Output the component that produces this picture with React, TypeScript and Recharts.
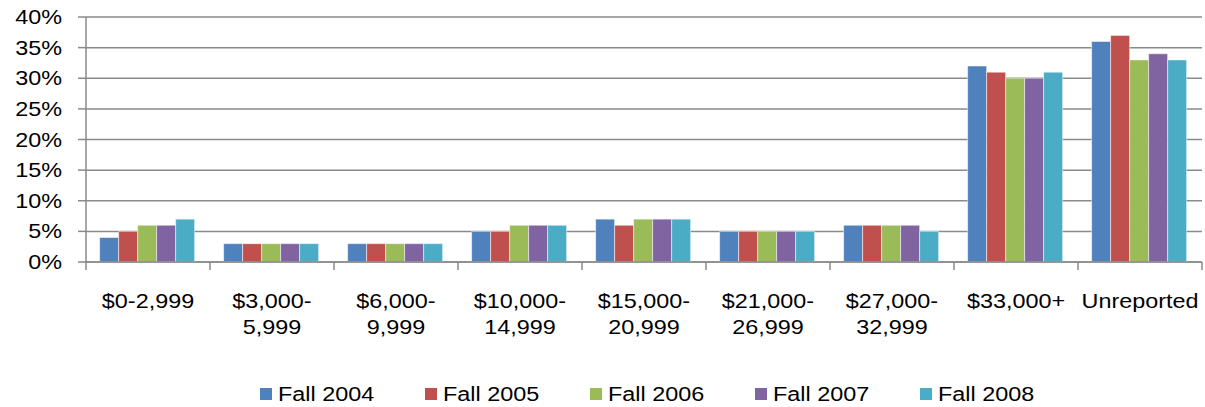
import { BarChart, Bar, XAxis, YAxis, CartesianGrid, Legend } from "recharts"

const categories = [
    ["$0-2,999"],
    ["$3,000-", "5,999"],
    ["$6,000-", "9,999"],
    ["$10,000-", "14,999"],
    ["$15,000-", "20,999"],
    ["$21,000-", "26,999"],
    ["$27,000-", "32,999"],
    ["$33,000+"],
    ["Unreported"],
]

const fall2004 = [4, 3, 3, 5, 7, 5, 6, 32, 36]
const fall2005 = [5, 3, 3, 5, 6, 5, 6, 31, 37]
const fall2006 = [6, 3, 3, 6, 7, 5, 6, 30, 33]
const fall2007 = [6, 3, 3, 6, 7, 5, 6, 30, 34]
const fall2008 = [7, 3, 3, 6, 7, 5, 5, 31, 33]

const yTicks = [0, 5, 10, 15, 20, 25, 30, 35, 40]

const series = [
    { key: "f2004", name: "Fall 2004", color: "#4F81BD", values: fall2004 },
    { key: "f2005", name: "Fall 2005", color: "#C0504D", values: fall2005 },
    { key: "f2006", name: "Fall 2006", color: "#9BBB59", values: fall2006 },
    { key: "f2007", name: "Fall 2007", color: "#8064A2", values: fall2007 },
    { key: "f2008", name: "Fall 2008", color: "#4BACC6", values: fall2008 },
]

const data = categories.map((lines, i) => {
    const row: any = { cat: lines.join(" "), idx: i }
    series.forEach(s => { row[s.key] = s.values[i] })
    return row
})

const FONT = '"Liberation Sans", Arial, sans-serif'
const STRETCH = 1.17
const GRID = "#8a8a8a"

function XTick(props: any) {
    const { x, y, index, width, visibleTicksCount } = props
    const band = width / (visibleTicksCount || categories.length)
    const lines = categories[index] || []
    return (
        <g>
            <line x1={x - band / 2} x2={x - band / 2} y1={y} y2={y + 8} stroke={GRID} strokeWidth={1.5} />
            {index === categories.length - 1 && (
                <line x1={x + band / 2} x2={x + band / 2} y1={y} y2={y + 8} stroke={GRID} strokeWidth={1.5} />
            )}
            {lines.map((l, i) => (
                <text key={i} transform={`translate(${x} ${y + 46 + i * 26}) scale(${STRETCH} 1)`} textAnchor="middle"
                    fontSize={20} fontFamily={FONT} fill="#000">{l}</text>
            ))}
        </g>
    )
}

function YTick(props: any) {
    const { x, y, payload } = props
    return (
        <text transform={`translate(${x} ${y + 7}) scale(${STRETCH} 1)`} textAnchor="end" fontSize={20} fontFamily={FONT} fill="#000">
            {payload.value}%
        </text>
    )
}

function LegendContent() {
    return (
        <div style={{ display: "flex", alignItems: "center", height: 24, fontFamily: FONT }}>
            {series.map(s => (
                <div key={s.key} style={{ width: 165, flexShrink: 0, display: "flex", alignItems: "center" }}>
                    <span style={{ width: 12, height: 12, background: s.color, display: "inline-block", marginRight: 6, flexShrink: 0 }} />
                    <span style={{ fontSize: 20, display: "inline-block", transform: `scaleX(${STRETCH})`, transformOrigin: "left center", whiteSpace: "nowrap", color: "#000" }}>
                        {s.name}
                    </span>
                </div>
            ))}
        </div>
    )
}

export default function App() {
    return (
        <div style={{ position: "absolute", left: 0, top: 0, width: 1205, height: 407, background: "#fff" }}>
            <BarChart width={1205} height={407} data={data} margin={{ top: 17, right: 3, bottom: 0, left: 0 }}
                barCategoryGap="11%" barGap={0}>
                <CartesianGrid vertical={false} stroke={GRID} strokeWidth={1.5} />
                <XAxis dataKey="cat" height={121} tickSize={0} tickMargin={0} interval={0}
                    axisLine={{ stroke: GRID, strokeWidth: 1.5 }} tickLine={false} tick={<XTick />} />
                <YAxis width={86} domain={[0, 40]} ticks={yTicks} interval={0} tickSize={8} tickMargin={16}
                    axisLine={{ stroke: GRID, strokeWidth: 1.5 }} tickLine={{ stroke: GRID, strokeWidth: 1.5 }} tick={<YTick />} />
                <Legend verticalAlign="bottom" content={<LegendContent />}
                    wrapperStyle={{ left: 260, top: 382, width: 900, height: 24 }} />
                {series.map(s => (
                    <Bar key={s.key} dataKey={s.key} name={s.name} fill={s.color}
                        stroke="#ffffff" strokeOpacity={0.5} strokeWidth={1} isAnimationActive={false} />
                ))}
            </BarChart>
        </div>
    )
}
